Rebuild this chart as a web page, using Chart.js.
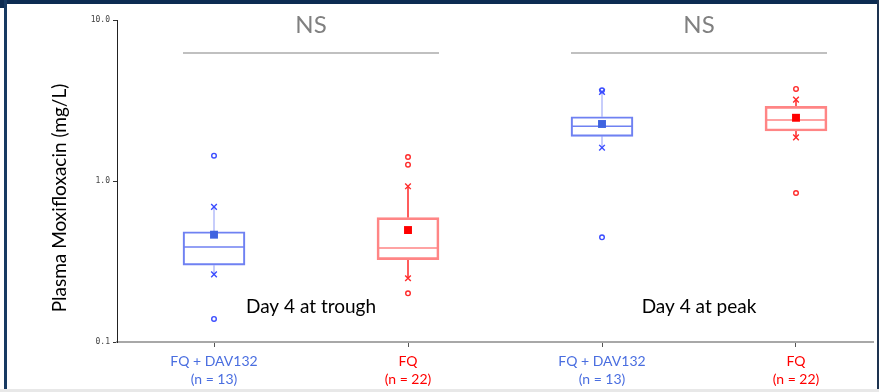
<!DOCTYPE html>
<html>
<head>
<meta charset="utf-8">
<script src="https://cdn.jsdelivr.net/npm/chart.js@4/dist/chart.umd.min.js"></script>
<style>
  body { margin: 0; background: #fff; }
  #wrap { position: relative; width: 879px; height: 392px; overflow: hidden; }
  #chart { position: absolute; left: 0; top: 0; }
  .edge { position: absolute; }
</style>
</head>
<body>
<div id="wrap">
  <canvas id="chart" width="879" height="392"></canvas>
  <div class="edge" style="left:0;top:0;width:879px;height:4px;background:#0d2c52;"></div>
  <div class="edge" style="left:4px;top:0;width:3px;height:392px;background:#173a62;"></div>
  <div class="edge" style="left:0;top:0;width:4px;height:8px;background:#0d2c52;"></div>
  <div class="edge" style="left:877px;top:0;width:2px;height:392px;background:#1d3350;"></div>
  <div class="edge" style="left:0;top:389px;width:879px;height:3px;background:#e8e8e8;"></div>
</div>
<script>
// groups along the x axis
const groups = ["FQ + DAV132", "FQ", "FQ + DAV132", "FQ"];
const counts = [13, 22, 13, 22];
const timepoints = ["Day 4 at trough", "Day 4 at peak"];
const comparisons = ["NS", "NS"];

// box plot summaries, mg/L
const q1 = [0.300, 0.325, 1.895, 2.045];
const median = [0.389, 0.384, 2.187, 2.39];
const q3 = [0.484, 0.592, 2.508, 2.91];
const mean = [0.464, 0.496, 2.26, 2.47];
const whiskerLow = [0.263, 0.249, 1.61, 1.868];
const whiskerHigh = [0.690, 0.927, 3.57, 3.2];
const outliers = [[1.436, 0.139], [1.41, 1.263, 0.2006], [3.66, 0.447], [3.73, 0.842]];

const yTicks = [0.1, 1, 10];

const blue = { box: "#6f81f2", boxWidth: 1.5, whisker: "rgba(120,135,245,0.55)", mark: "#3a4cff", mean: "#3f63e0", label: "#4a6ee0" };
const red = { box: "#ff8585", boxWidth: 2, whisker: "rgba(255,0,0,0.85)", mark: "#ff2a2a", mean: "#ff0000", label: "#ff0000" };
const pal = i => (i % 2 === 0 ? blue : red);

const outlierPts = [];
outliers.forEach((list, i) => list.forEach(v => outlierPts.push({ x: i + 1, y: v })));
const endPts = [];
groups.forEach((g, i) => {
  endPts.push({ x: i + 1, y: whiskerLow[i] });
  endPts.push({ x: i + 1, y: whiskerHigh[i] });
});

const colorByX = key => ctx => {
  const raw = ctx.raw;
  return raw ? pal(raw.x - 1)[key] : blue[key];
};

// medians and whiskers under the points
const boxParts = {
  id: "boxParts",
  beforeDatasetsDraw(chart) {
    const ctx = chart.ctx;
    const xs = chart.scales.x, ys = chart.scales.y;
    const bars = chart.getDatasetMeta(0).data;
    ctx.save();
    groups.forEach((g, i) => {
      const cx = xs.getPixelForValue(i + 1);
      const half = bars[i].width / 2;
      ctx.strokeStyle = pal(i).whisker;
      ctx.lineWidth = 1.5;
      ctx.beginPath();
      ctx.moveTo(cx, ys.getPixelForValue(q3[i]));
      ctx.lineTo(cx, ys.getPixelForValue(whiskerHigh[i]));
      ctx.moveTo(cx, ys.getPixelForValue(q1[i]));
      ctx.lineTo(cx, ys.getPixelForValue(whiskerLow[i]));
      ctx.stroke();
      ctx.strokeStyle = pal(i).box;
      ctx.beginPath();
      const my = ys.getPixelForValue(median[i]);
      ctx.moveTo(cx - half, my);
      ctx.lineTo(cx + half, my);
      ctx.stroke();
    });
    ctx.restore();
  },
  afterDraw(chart) {
    const ctx = chart.ctx;
    const xs = chart.scales.x;
    const bars = chart.getDatasetMeta(0).data;
    ctx.save();
    timepoints.forEach((t, k) => {
      const a = 2 * k, b = 2 * k + 1;
      const xa = xs.getPixelForValue(a + 1), xb = xs.getPixelForValue(b + 1);
      const mid = (xa + xb) / 2;
      // significance bracket
      ctx.strokeStyle = "#c0c0c0";
      ctx.lineWidth = 2;
      ctx.beginPath();
      ctx.moveTo(xa - bars[a].width / 2, 53);
      ctx.lineTo(xb + bars[b].width / 2, 53);
      ctx.stroke();
      ctx.fillStyle = "#808080";
      ctx.font = "24px Lato";
      ctx.textAlign = "center";
      ctx.textBaseline = "alphabetic";
      ctx.fillText(comparisons[k], mid, 33);
      ctx.fillStyle = "#000";
      ctx.font = "19px Lato";
      ctx.fillText(t, mid, 313);
    });
    // y axis title
    ctx.translate(60, 198);
    ctx.rotate(-Math.PI / 2);
    ctx.fillStyle = "#000";
    ctx.font = "19px Lato";
    ctx.textAlign = "center";
    ctx.textBaseline = "middle";
    ctx.fillText("Plasma Moxifloxacin (mg/L)", 0, 0);
    ctx.restore();
  }
};

new Chart(document.getElementById("chart"), {
  type: "bar",
  data: {
    datasets: [
      {
        type: "bar",
        data: groups.map((g, i) => ({ x: i + 1, y: [q1[i], q3[i]] })),
        backgroundColor: "rgba(255,255,255,0)",
        borderColor: groups.map((g, i) => pal(i).box),
        borderWidth: groups.map((g, i) => pal(i).boxWidth),
        borderSkipped: false,
        barThickness: 62,
        order: 10
      },
      {
        type: "scatter",
        data: outlierPts,
        pointStyle: "circle",
        pointRadius: 2.3,
        pointBorderWidth: 1.4,
        pointBackgroundColor: "#fff",
        pointBorderColor: colorByX("mark"),
        order: 3
      },
      {
        type: "scatter",
        data: endPts,
        pointStyle: "crossRot",
        pointRadius: 4,
        pointBorderWidth: 1.4,
        pointBorderColor: colorByX("mark"),
        order: 2
      },
      {
        type: "scatter",
        data: groups.map((g, i) => ({ x: i + 1, y: mean[i] })),
        pointStyle: "rect",
        pointRadius: 5.6,
        pointBorderWidth: 0,
        pointBackgroundColor: colorByX("mean"),
        order: 1
      }
    ]
  },
  options: {
    responsive: false,
    animation: false,
    layout: { padding: { left: 0, top: 20, right: 6, bottom: 0 } },
    plugins: { legend: { display: false }, tooltip: { enabled: false } },
    scales: {
      x: {
        type: "linear",
        offset: false,
        min: 0.5,
        max: 0.5 + 756 / 194,
        afterBuildTicks: s => { s.ticks = groups.map((g, i) => ({ value: i + 1 })); },
        afterFit: s => { s.height = 50; },
        grid: { offset: false, drawOnChartArea: false, tickLength: 5, color: "#555", tickWidth: 1 },
        border: { color: "#a8a8a8", width: 2 },
        ticks: {
          padding: 5,
          font: { family: "Lato", size: 14, lineHeight: 1.3 },
          color: ctx => pal(ctx.index).label,
          callback: (v, i) => [groups[i], "(n = " + counts[i] + ")"]
        }
      },
      y: {
        type: "logarithmic",
        min: 0.1,
        max: 10,
        afterBuildTicks: s => { s.ticks = yTicks.map(v => ({ value: v })); },
        afterFit: s => { s.width = 117; },
        grid: { drawOnChartArea: false, tickLength: 4, color: "#333" },
        border: { color: "#222", width: 1 },
        ticks: {
          padding: 3,
          font: { family: "DejaVu Sans Mono", size: 8 },
          color: "#444",
          callback: v => Number(v).toFixed(1)
        }
      }
    }
  },
  plugins: [boxParts]
});
</script>
</body>
</html>
